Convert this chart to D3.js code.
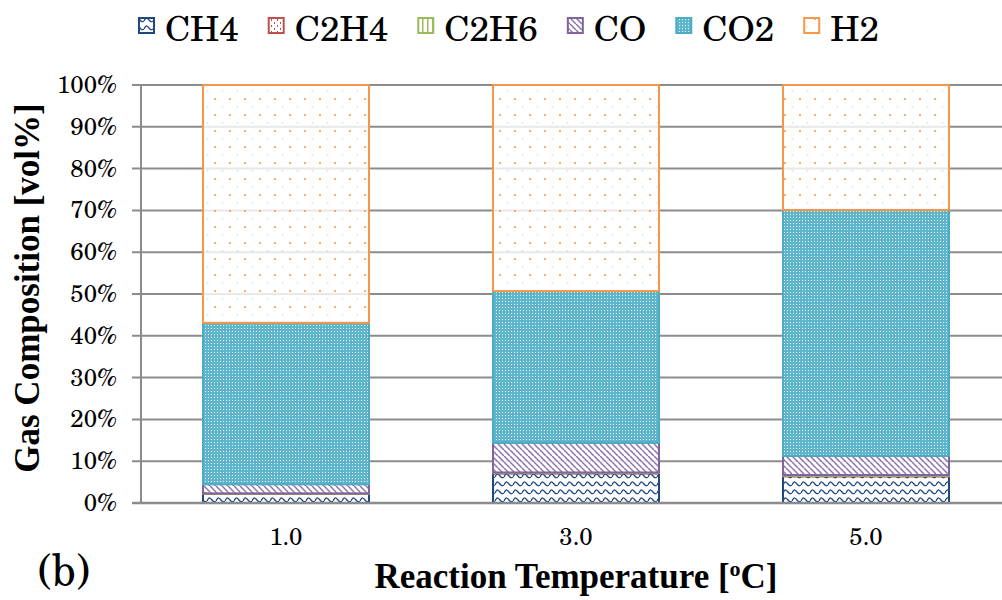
<!DOCTYPE html>
<html><head><meta charset="utf-8">
<script src="https://cdn.jsdelivr.net/npm/d3@7/dist/d3.min.js"></script>
<style>body{margin:0;background:#fff}svg{display:block}</style>
</head><body>
<svg id="c" width="1002" height="600"></svg>
<script>
const categories = ["1.0", "3.0", "5.0"];
const seriesNames = ["CH4", "C2H4", "C2H6", "CO", "CO2", "H2"];
const ch4  = [2.2, 7.1, 6.4];
const c2h4 = [0.05, 0.1, 0.1];
const c2h6 = [0.05, 0.1, 0.2];
const co   = [2.2, 7.1, 4.6];
const co2  = [38.6, 36.3, 58.8];
const h2   = [56.9, 49.3, 29.9];
const yTickValues = [0, 10, 20, 30, 40, 50, 60, 70, 80, 90, 100];
const yTickLabels = ["0%", "10%", "20%", "30%", "40%", "50%", "60%", "70%", "80%", "90%", "100%"];
const colors = ["#1f497d", "#c0504d", "#9bbb59", "#8064a2", "#4bacc6", "#f79646"];

const seriesValues = [ch4, c2h4, c2h6, co, co2, h2];
const rows = categories.map((c, i) => {
  const r = {cat: c};
  seriesNames.forEach((s, k) => r[s] = seriesValues[k][i]);
  return r;
});

// pick an installed serif face for regular text
const cv = document.createElement("canvas").getContext("2d");
function widthOf(f) { cv.font = "40px " + f; return cv.measureText("CH4 mmwwiil (b) 100%").width; }
const mono = widthOf("monospace");
const candidates = ["C059", "TeX Gyre Schola", "Century Schoolbook L", "Liberation Serif", "Tinos", "Times New Roman", "Noto Serif", "FreeSerif", "Nimbus Roman", "DejaVu Serif"];
let found = candidates.find(f => Math.abs(widthOf(`"${f}", monospace`) - mono) > 0.5) || "serif";
const serifR = `"${found}", serif`;
const serifB = "'Liberation Serif','Times New Roman',serif";

// font box metrics (per px of font size)
cv.font = "100px " + serifR;
const mm = cv.measureText("CH4(b)");
const aR = (mm.fontBoundingBoxAscent || 90) / 100;
const dR = (mm.fontBoundingBoxDescent || 22) / 100;

const svg = d3.select("#c");

// patterns
const defs = svg.append("defs");
function pat(id, w, h) {
  return defs.append("pattern").attr("id", id).attr("patternUnits", "userSpaceOnUse")
    .attr("width", w).attr("height", h);
}
let p = pat("p0", 9, 8);
p.append("rect").attr("width", 9).attr("height", 8).attr("fill", "#fff").attr("opacity", 0.85);
p.append("path").attr("d", "M0,5 C2,1 2.5,1 4.5,3.5 C6.5,6 7,6 9,5").attr("fill", "none")
  .attr("stroke", colors[0]).attr("stroke-width", 1.3);
p = pat("p1", 6, 6);
p.append("rect").attr("width", 6).attr("height", 6).attr("fill", "#fff").attr("opacity", 0.85);
p.append("rect").attr("x", 1).attr("y", 1).attr("width", 1).attr("height", 2).attr("fill", colors[1]);
p.append("rect").attr("x", 4).attr("y", 4).attr("width", 1).attr("height", 2).attr("fill", colors[1]);
p = pat("p2", 5, 5);
p.append("rect").attr("width", 5).attr("height", 5).attr("fill", "#fff").attr("opacity", 0.85);
p.append("rect").attr("x", 2).attr("width", 1.5).attr("height", 5).attr("fill", colors[2]);
p = pat("p3", 6, 6);
p.append("rect").attr("width", 6).attr("height", 6).attr("fill", "#fff").attr("opacity", 0.85);
p.append("path").attr("d", "M0,0 L6,6 M-3,3 L0,6 M3,-3 L6,0").attr("stroke", colors[3])
  .attr("stroke-width", 1.5).attr("opacity", 0.9);
p = pat("p4", 3, 3);
p.append("rect").attr("width", 3).attr("height", 3).attr("fill", "#5fb5cc");
p.append("rect").attr("x", 1).attr("y", 1).attr("width", 1).attr("height", 1).attr("fill", "#e6f4f8");
p = pat("p5", 15, 16);
p.append("rect").attr("width", 15).attr("height", 16).attr("fill", "#fff").attr("opacity", 0.8);
p.append("rect").attr("x", 4).attr("y", 2).attr("width", 2).attr("height", 2).attr("fill", colors[5]).attr("opacity", 0.8);
p.append("rect").attr("x", 11.5).attr("y", 10).attr("width", 2).attr("height", 1.5).attr("fill", colors[5]).attr("opacity", 0.35);

const x = d3.scaleBand().domain(categories).range([141, 1011]).paddingInner(0.4276).paddingOuter(0.2138);
const y = d3.scaleLinear().domain([0, 100]).range([503, 85]);

svg.append("g").selectAll("line").data(yTickValues).join("line")
  .attr("x1", 132).attr("x2", 1002)
  .attr("y1", d => y(d)).attr("y2", d => y(d))
  .attr("stroke", "#8c8c8c").attr("stroke-width", 2);
svg.append("line").attr("x1", 141).attr("x2", 141).attr("y1", y(100)).attr("y2", y(0))
  .attr("stroke", "#8c8c8c").attr("stroke-width", 2);

cv.font = "40px " + serifR;
const tickSize = Math.max(18, Math.min(28, 40 * 60 / cv.measureText("100%").width));
let legSize = Math.max(28, Math.min(44, 40 * 75 / cv.measureText("CH4").width));
let bSize = Math.max(34, Math.min(48, 40 * 54 / cv.measureText("(b)").width));

// keep the font boxes inside the picture
let legBase = Math.max(39, Math.ceil(aR * legSize) + 1);
if (legBase > 41) { legBase = 41; legSize = Math.min(legSize, (legBase - 1) / aR); }
let bBase = 589;
if (bBase + dR * bSize > 599) { bBase = Math.max(585, 599 - dR * bSize); bSize = Math.min(bSize, (599 - bBase) / dR); }

svg.append("g").selectAll("text").data(yTickValues).join("text")
  .attr("x", 117).attr("y", d => y(d) + 8)
  .attr("text-anchor", "end").attr("font-family", serifR).attr("font-size", tickSize)
  .text((d, i) => yTickLabels[i]);

const stack = d3.stack().keys(seriesNames)(rows);
svg.append("g").selectAll("g").data(stack).join("g")
  .attr("fill", (d, i) => `url(#p${i})`)
  .attr("stroke", (d, i) => colors[i])
  .attr("stroke-width", 2)
  .selectAll("rect").data(d => d).join("rect")
  .attr("x", d => x(d.data.cat))
  .attr("width", x.bandwidth())
  .attr("y", d => y(d[1]))
  .attr("height", d => y(d[0]) - y(d[1]));

svg.append("line").attr("x1", 132).attr("x2", 1002).attr("y1", y(0)).attr("y2", y(0))
  .attr("stroke", "#8c8c8c").attr("stroke-width", 2.5);

svg.append("g").selectAll("text").data(categories).join("text")
  .attr("x", d => x(d) + x.bandwidth() / 2).attr("y", 545)
  .attr("text-anchor", "middle").attr("font-family", serifR).attr("font-size", tickSize)
  .text(d => d);

svg.append("text").attr("transform", "translate(39,288) rotate(-90)")
  .attr("text-anchor", "middle").attr("font-family", serifB).attr("font-weight", "bold")
  .attr("font-size", 35).text("Gas Composition [vol%]");
const xt = svg.append("text").attr("x", 576).attr("y", 588)
  .attr("text-anchor", "middle").attr("font-family", serifB).attr("font-weight", "bold")
  .attr("font-size", 35);
xt.append("tspan").text("Reaction Temperature [");
xt.append("tspan").attr("dy", -12).attr("font-size", 22).text("o");
xt.append("tspan").attr("dy", 12).text("C]");

svg.append("text").attr("x", 38).attr("y", bBase).attr("font-family", serifR)
  .attr("font-size", bSize).text("(b)");

const leg = svg.append("g");
let lx = 138;
seriesNames.forEach((s, i) => {
  const g = leg.append("g");
  g.append("rect").attr("x", lx + 1).attr("y", 18).attr("width", 15).attr("height", 15)
    .attr("fill", `url(#p${i})`).attr("stroke", colors[i]).attr("stroke-width", 2);
  const t = g.append("text").attr("x", lx + 27).attr("y", legBase).attr("font-family", serifR)
    .attr("font-size", legSize).text(s);
  lx = lx + 27 + t.node().getComputedTextLength() + 29;
});
</script>
</body></html>
